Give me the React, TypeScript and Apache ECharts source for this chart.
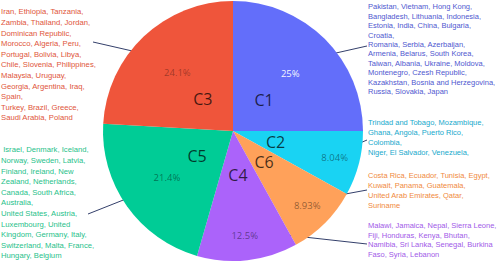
import React, { useEffect, useRef } from "react";
import * as echarts from "echarts";

const clusters = ["C1", "C2", "C6", "C4", "C5", "C3"];
const counts = [28, 9, 10, 14, 24, 27];
const sliceColors = ["#636efa", "#19d3f3", "#ffa15a", "#ab63fa", "#00cc96", "#ef553b"];
const textColors = ["#4f58cf", "#17a9cc", "#f08a3e", "#9f5ae8", "#1fbf8a", "#e0553a"];
const pctColors = [
  "rgba(255,255,255,0.95)",
  "rgba(0,0,0,0.45)",
  "rgba(0,0,0,0.45)",
  "rgba(0,0,0,0.45)",
  "rgba(0,0,0,0.45)",
  "rgba(0,0,0,0.35)",
];

const countryLines: string[][] = [
  [
    "Pakistan, Vietnam, Hong Kong,",
    "Bangladesh, Lithuania, Indonesia,",
    "Estonia, India, China, Bulgaria,",
    "Croatia,",
    "Romania, Serbia, Azerbaijan,",
    "Armenia, Belarus, South Korea,",
    "Taiwan, Albania, Ukraine, Moldova,",
    "Montenegro, Czesh Republic,",
    "Kazakhstan, Bosnia and Herzegovina,",
    "Russia, Slovakia, Japan",
  ],
  [
    "Trindad and Tobago, Mozambique,",
    "Ghana, Angola, Puerto Rico,",
    "Colombia,",
    "Niger, El Salvador, Venezuela,",
  ],
  [
    "Costa Rica, Ecuador, Tunisia, Egypt,",
    "Kuwait, Panama, Guatemala,",
    "United Arab Emirates, Qatar,",
    "Suriname",
  ],
  [
    "Malawi, Jamaica, Nepal, Sierra Leone,",
    "Fiji, Honduras, Kenya, Bhutan,",
    "Namibia, Sri Lanka, Senegal, Burkina",
    "Faso, Syria, Lebanon",
  ],
  [
    " Israel, Denmark, Iceland,",
    "Norway, Sweden, Latvia,",
    "Finland, Ireland, New",
    "Zealand, Netherlands,",
    "Canada, South Africa,",
    "Australia,",
    "United States, Austria,",
    "Luxembourg, United",
    "Kingdom, Germany, Italy,",
    "Switzerland, Malta, France,",
    "Hungary, Belgium",
  ],
  [
    "Iran, Ethiopia, Tanzania,",
    "Zambia, Thailand, Jordan,",
    "Dominican Republic,",
    "Morocco, Algeria, Peru,",
    "Portugal, Bolivia, Libya,",
    "Chile, Slovenia, Philippines,",
    "Malaysia, Uruguay,",
    "Georgia, Argentina, Iraq,",
    "Spain,",
    "Turkey, Brazil, Greece,",
    "Saudi Arabia, Poland",
  ],
];

// layout of annotation blocks (text box top-left, font size, line height, leader line end)
const blockLayout = [
  { x: 368, y: 2.3, fs: 7.5, lh: 9.4, lx: 367, ly: 46 },
  { x: 368, y: 117, fs: 7.5, lh: 10, lx: 367, ly: 140 },
  { x: 368, y: 169.9, fs: 7.5, lh: 10.3, lx: 367, ly: 190 },
  { x: 368, y: 221.3, fs: 7.5, lh: 9.4, lx: 367, ly: 244 },
  { x: 1, y: 144.7, fs: 7.7, lh: 10.6, lx: 88, ly: 214 },
  { x: 1, y: 6.7, fs: 7.7, lh: 10.6, lx: 93, ly: 42 },
];

const FONT = "'Open Sans', 'Noto Sans', sans-serif";
const LIST_FONT = "'Liberation Sans', Arial, sans-serif";
const CENTER = [233, 131];
const R = 130;

export default function App() {
  const ref = useRef<HTMLDivElement>(null);
  useEffect(() => {
    if (!ref.current) return;
    const chart = echarts.init(ref.current, undefined, { renderer: "svg" });
    const total = counts.reduce((a, b) => a + b, 0);
    const base = clusters.map((name, i) => ({
      name,
      value: counts[i],
    }));
    const transparent = { color: "rgba(0,0,0,0)", borderWidth: 0 };
    const bigIdx = [0, 4, 5];
    const pct = (p: any) => String(parseFloat(((p.value / total) * 100).toPrecision(3))) + "%";

    chart.setOption({
      animation: false,
      series: [
        {
          type: "pie",
          center: CENTER,
          radius: [0, R],
          startAngle: 90,
          clockwise: true,
          silent: true,
          label: { show: false },
          labelLine: { show: false },
          itemStyle: { borderWidth: 0 },
          data: base.map((d, i) => ({ ...d, itemStyle: { color: sliceColors[i] } })),
        },
        {
          // cluster names
          type: "pie",
          center: CENTER,
          radius: [0, 82],
          silent: true,
          itemStyle: transparent,
          labelLine: { show: false },
          label: {
            show: true,
            position: "inside",
            formatter: "{b}",
            fontFamily: FONT,
            fontSize: 16,
            color: "rgba(0,0,0,0.72)",
          },
          data: base,
        },
        {
          // percentages of large slices
          type: "pie",
          center: CENTER,
          radius: [0, 156],
          silent: true,
          itemStyle: transparent,
          labelLine: { show: false },
          label: { show: true, position: "inside", fontFamily: FONT, fontSize: 9.5, formatter: pct },
          data: base.map((d, i) => ({
            ...d,
            label: { show: bigIdx.includes(i), color: pctColors[i] },
          })),
        },
        {
          // percentages of small slices
          type: "pie",
          center: CENTER,
          radius: [0, 204],
          silent: true,
          itemStyle: transparent,
          labelLine: { show: false },
          label: { show: true, position: "inside", fontFamily: FONT, fontSize: 9.5, formatter: pct },
          data: base.map((d, i) => ({
            ...d,
            label: { show: !bigIdx.includes(i), color: pctColors[i] },
          })),
        },
        {
          // country annotations with leader lines
          type: "pie",
          center: CENTER,
          radius: [0, 100],
          silent: true,
          itemStyle: transparent,
          label: {
            show: true,
            position: "outside",
            fontFamily: LIST_FONT,
            formatter: (p: any) => countryLines[p.dataIndex].join("\n"),
          },
          labelLine: {
            show: true,
            length: 5,
            length2: 5,
            lineStyle: { color: "#34406b", width: 1 },
          },
          labelLayout: (p: any) => {
            const b = blockLayout[p.dataIndex];
            const pts = p.labelLinePoints || [[0, 0]];
            return {
              x: b.x,
              y: b.y,
              align: "left",
              verticalAlign: "top",
              labelLinePoints: [pts[0], [b.lx, b.ly], [b.lx, b.ly]],
            };
          },
          data: base.map((d, i) => ({
            ...d,
            label: {
              color: textColors[i],
              fontSize: blockLayout[i].fs,
              lineHeight: blockLayout[i].lh,
            },
          })),
        },
      ],
    });
    return () => chart.dispose();
  }, []);
  return (
    <div
      ref={ref}
      style={{ position: "absolute", left: 0, top: 0, width: 498, height: 262, background: "#fff" }}
    />
  );
}
